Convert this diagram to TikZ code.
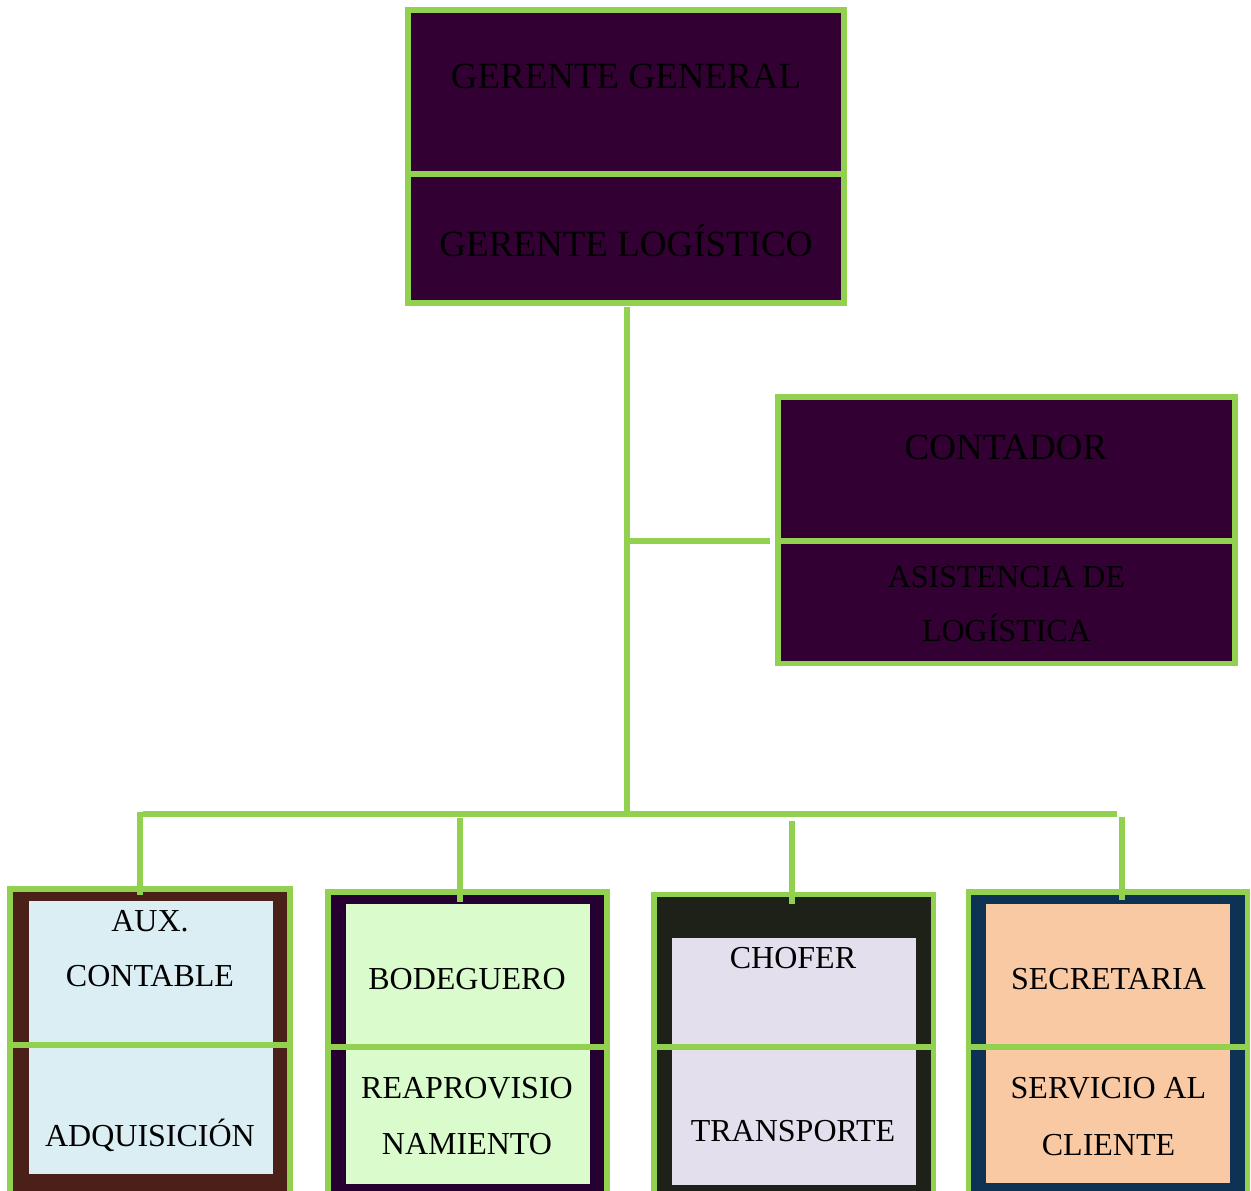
\documentclass[tikz,border=0pt]{standalone}
\usepackage{fontspec}
\setmainfont{Liberation Serif}
\definecolor{leaf}{HTML}{92D050}
\definecolor{plum}{HTML}{330033}
\definecolor{grape}{HTML}{250030}
\definecolor{cocoa}{HTML}{4A2018}
\definecolor{olivenight}{HTML}{1D2118}
\definecolor{navy}{HTML}{0E3253}
\definecolor{paleblue}{HTML}{DAEEF3}
\definecolor{palegreen}{HTML}{DAFBCB}
\definecolor{lavender}{HTML}{E4DFEC}
\definecolor{peach}{HTML}{F9C9A4}
\begin{document}
\begin{tikzpicture}[x={(1pt,0pt)}, y={(0pt,-1pt)},
  panel/.style={draw=leaf, line width=5.6pt, inner sep=0pt, outer sep=0pt},
  sheet/.style={draw=none, inner sep=0pt, outer sep=0pt},
  rule/.style={draw=leaf, line width=5.6pt},
  link/.style={draw=leaf, line width=5.8pt},
  bigtext/.style={anchor=base, inner sep=0pt, text=black, font=\fontsize{37}{44}\selectfont},
  smalltext/.style={anchor=base, inner sep=0pt, text=black, font=\fontsize{32}{38}\selectfont}]

\useasboundingbox (0,0) rectangle (1251,1191);
\clip (0,0) rectangle (1251,1191);

% top management box
\node[panel, fill=plum, minimum width=436pt, minimum height=293pt] (top) at (626,156.5) {};
\coordinate (dtop) at (0,174);
\draw[rule] (top.west |- dtop) -- (top.east |- dtop);
\node[bigtext] (gg) at (626,88) {GERENTE GENERAL};
\node[bigtext] (gl) at (626,256) {GERENTE LOGÍSTICO};

% staff box on the right
\node[panel, fill=plum, minimum width=457pt, minimum height=266.5pt] (cont) at (1006.5,530.25) {};
\coordinate (dcont) at (0,541);
\draw[rule] (cont.west |- dcont) -- (cont.east |- dcont);
\node[bigtext] (ct) at (1006,459) {CONTADOR};
\node[smalltext] (as1) at (1006.5,587) {ASISTENCIA DE};
\node[smalltext] (as2) at (1006.5,641.7) {LOGÍSTICA};

% bottom row: outer frames
\node[panel, fill=cocoa, minimum width=280pt, minimum height=331pt] (b1) at (150,1054.5) {};
\node[panel, fill=grape, minimum width=279pt, minimum height=328pt] (b2) at (467.5,1056) {};
\node[panel, fill=olivenight, minimum width=279.5pt, minimum height=325.5pt] (b3) at (793.75,1057.25) {};
\node[panel, fill=navy, minimum width=279pt, minimum height=328pt] (b4) at (1108,1056) {};

% bottom row: light inner sheets
\node[sheet, fill=paleblue, minimum width=244pt, minimum height=273.3pt] (i1) at (151.3,1037.35) {};
\node[sheet, fill=palegreen, minimum width=244pt, minimum height=280pt] (i2) at (468,1044) {};
\node[sheet, fill=lavender, minimum width=243.7pt, minimum height=246.7pt] (i3) at (794.15,1061.65) {};
\node[sheet, fill=peach, minimum width=244.3pt, minimum height=279.3pt] (i4) at (1107.85,1043.65) {};

% bottom row: dividers
\coordinate (d1) at (0,1044.7);
\coordinate (d2) at (0,1047);
\draw[rule] (b1.west |- d1) -- (b1.east |- d1);
\draw[rule] (b2.west |- d2) -- (b2.east |- d2);
\draw[rule] (b3.west |- d2) -- (b3.east |- d2);
\draw[rule] (b4.west |- d2) -- (b4.east |- d2);

% bottom row: labels
\node[smalltext] (aux1) at (150,931.7) {AUX.};
\node[smalltext] (aux2) at (150,986) {CONTABLE};
\node[smalltext] (adq) at (150,1146.7) {ADQUISICIÓN};
\node[smalltext] (bod) at (467,989) {BODEGUERO};
\node[smalltext] (rea1) at (467,1098.3) {REAPROVISIO};
\node[smalltext] (rea2) at (467,1154.3) {NAMIENTO};
\node[smalltext] (cho) at (793,968.3) {CHOFER};
\node[smalltext] (tra) at (793,1141.7) {TRANSPORTE};
\node[smalltext] (sec) at (1108.5,989) {SECRETARIA};
\node[smalltext] (ser1) at (1108.5,1098.3) {SERVICIO AL};
\node[smalltext] (ser2) at (1108.5,1155) {CLIENTE};

% connectors
\coordinate (hub) at (627,541);
\coordinate (busc) at (627,814);
\coordinate (busl) at (143,814);
\coordinate (busr) at (1117,814);
\coordinate (t1) at (140,812);
\coordinate (t2) at (460,818);
\coordinate (t3) at (792,821);
\coordinate (t4) at (1122,817);

\draw[link, shorten <=4pt] (hub |- top.south) -- (busc);
\draw[link, shorten >=8pt] (hub) -- (hub -| cont.west);
\draw[link] (busl) -- (busr);
\draw[link, shorten >=-6pt] (t1) -- (t1 |- b1.north);
\draw[link, shorten >=-9.7pt] (t2) -- (t2 |- b2.north);
\draw[link, shorten >=-9.5pt] (t3) -- (t3 |- b3.north);
\draw[link, shorten >=-8pt] (t4) -- (t4 |- b4.north);
\end{tikzpicture}
\end{document}
